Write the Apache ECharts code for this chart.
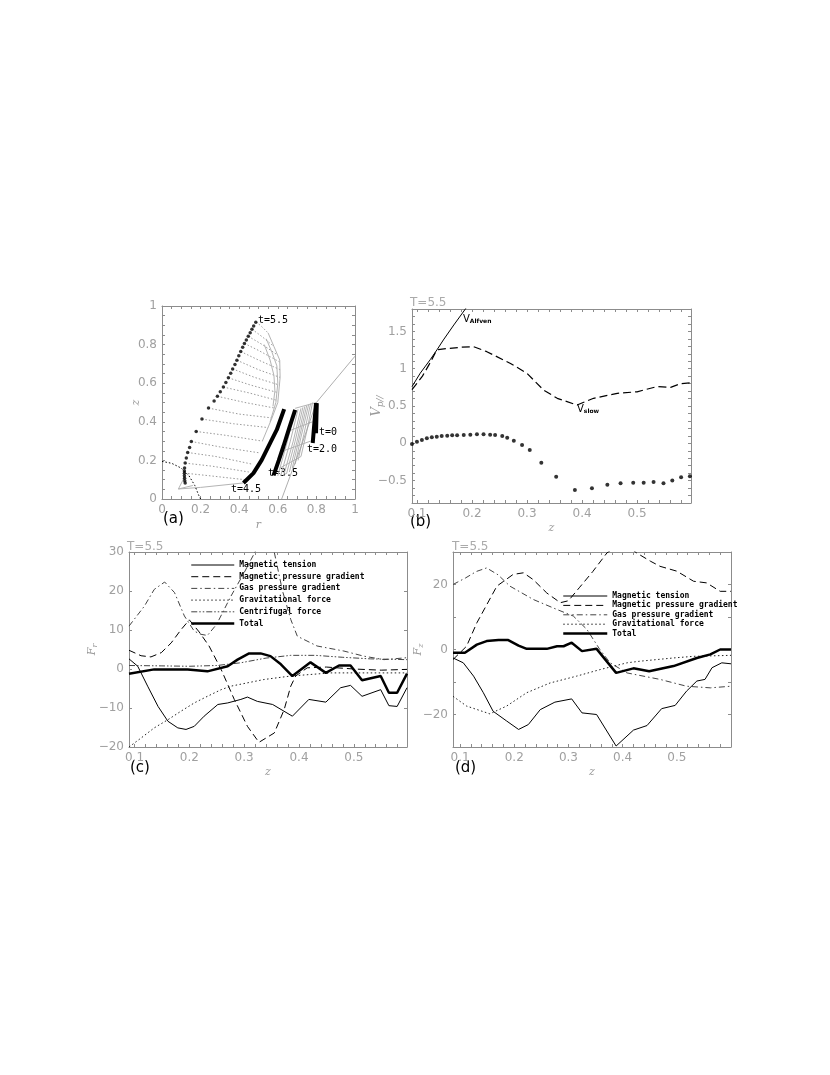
<!DOCTYPE html>
<html>
<head>
<meta charset="utf-8">
<script src="https://cdn.jsdelivr.net/npm/echarts@6/dist/echarts.min.js"></script>
<style>
html, body { margin: 0; padding: 0; background: #fff; }
#chart { width: 830px; height: 1075px; }
</style>
</head>
<body>
<div id="chart"></div>
<script>
// ---- tick labels ----
var aTicks = [0, 0.2, 0.4, 0.6, 0.8, 1];
var zLabels = [0.1, 0.2, 0.3, 0.4, 0.5];
var bYLabels = [-0.5, 0, 0.5, 1, 1.5];
var cYLabels = [-20, -10, 0, 10, 20, 30];
var dYLabels = [-20, 0, 20];

// ---- panel (a): field line snapshots, [r, z] ----
var aT55 = [[0.486,0.916],[0.475,0.897],[0.466,0.88],[0.457,0.862],[0.447,0.843],[0.437,0.824],[0.427,0.806],
  [0.418,0.786],[0.408,0.764],[0.398,0.742],[0.388,0.719],[0.378,0.697],[0.366,0.674],[0.356,0.652],[0.344,0.628],
  [0.331,0.604],[0.318,0.58],[0.302,0.556],[0.287,0.532],[0.27,0.508],[0.241,0.471],[0.207,0.414],[0.177,0.35],
  [0.152,0.298],[0.143,0.267],[0.133,0.241],[0.126,0.212],[0.12,0.186],[0.117,0.16],[0.116,0.145],[0.116,0.134],
  [0.116,0.12],[0.117,0.108],[0.118,0.095],[0.12,0.083]];
var aT45 = [[0.422,0.083],[0.474,0.134],[0.517,0.203],[0.56,0.29],[0.595,0.359],[0.633,0.466]];
var aT35 = [[0.578,0.122],[0.605,0.2],[0.629,0.272],[0.66,0.37],[0.69,0.462]];
var aT20 = [[0.781,0.29],[0.79,0.4],[0.798,0.497]];
var aT0 = [[0.798,0.341],[0.8,0.42],[0.802,0.497]];
var aGravity = [[0,0.195],[0.05,0.185],[0.1,0.16],[0.14,0.12],[0.17,0.07],[0.19,0.02],[0.2,0]];
var aFan = [
  [[0.486,0.916],[0.51,0.9],[0.55,0.86]],
  [[0.466,0.88],[0.52,0.84],[0.58,0.79]],
  [[0.447,0.843],[0.52,0.8],[0.6,0.745]],
  [[0.427,0.806],[0.5,0.77],[0.61,0.71]],
  [[0.408,0.764],[0.5,0.72],[0.612,0.67]],
  [[0.388,0.719],[0.5,0.67],[0.612,0.63]],
  [[0.366,0.674],[0.48,0.63],[0.61,0.59]],
  [[0.344,0.628],[0.46,0.59],[0.605,0.55]],
  [[0.318,0.58],[0.45,0.55],[0.6,0.51]],
  [[0.287,0.532],[0.43,0.5],[0.59,0.47]],
  [[0.241,0.471],[0.4,0.44],[0.57,0.42]],
  [[0.207,0.414],[0.37,0.39],[0.55,0.37]],
  [[0.177,0.35],[0.33,0.33],[0.52,0.3]],
  [[0.152,0.298],[0.3,0.27],[0.5,0.24]],
  [[0.133,0.241],[0.28,0.22],[0.47,0.18]],
  [[0.12,0.186],[0.26,0.17],[0.45,0.14]],
  [[0.117,0.134],[0.25,0.12],[0.43,0.1]]
];
var aEnvelope = [
  [[0.55,0.86],[0.58,0.79],[0.61,0.72],[0.612,0.63],[0.6,0.5],[0.57,0.42],[0.52,0.3]],
  [[0.54,0.83],[0.57,0.76],[0.595,0.69],[0.6,0.6],[0.59,0.5],[0.56,0.4]],
  [[0.53,0.8],[0.56,0.72],[0.58,0.64],[0.585,0.56],[0.575,0.48]]
];
var aBase = [[0.085,0.052],[0.2,0.06],[0.42,0.083]];
var aCorner = [[0.12,0.12],[0.085,0.052],[0.16,0.07]];
var aHatch = [
  [[0.6,0.12],[0.65,0.3],[0.69,0.46]],
  [[0.615,0.12],[0.665,0.3],[0.705,0.465]],
  [[0.63,0.12],[0.68,0.3],[0.72,0.47]],
  [[0.645,0.13],[0.69,0.3],[0.73,0.475]],
  [[0.66,0.14],[0.7,0.3],[0.74,0.48]],
  [[0.675,0.16],[0.71,0.31],[0.75,0.485]],
  [[0.69,0.18],[0.72,0.32],[0.76,0.49]],
  [[0.705,0.2],[0.735,0.335],[0.77,0.495]],
  [[0.72,0.22],[0.75,0.35],[0.78,0.5]],
  [[0.69,0.47],[0.8,0.5]],
  [[0.65,0.35],[0.78,0.4]],
  [[0.63,0.25],[0.77,0.3]],
  [[0.61,0.16],[0.72,0.22]]
];
var aOuter = [[0.62,0],[0.72,0.27],[0.8,0.5],[1.0,0.74]];

// ---- panel (b): velocities vs z ----
var bAlfven = [[0.091,0.76],[0.106,0.94],[0.124,1.12],[0.137,1.26],[0.148,1.385],[0.167,1.586],[0.188,1.8],[0.195,1.88]];
var bSlow = [[0.091,0.72],[0.11,0.9],[0.124,1.08],[0.136,1.25],[0.142,1.26],[0.179,1.287],[0.203,1.295],[0.227,1.228],
  [0.27,1.07],[0.3,0.938],[0.33,0.714],[0.355,0.603],[0.391,0.513],[0.421,0.603],[0.464,0.67],[0.5,0.69],
  [0.536,0.76],[0.561,0.75],[0.579,0.8],[0.597,0.81]];
var bVpar = [[0.091,-0.009],[0.1,0.021],[0.109,0.044],[0.118,0.067],[0.127,0.08],[0.136,0.089],[0.145,0.098],
  [0.155,0.102],[0.164,0.107],[0.173,0.107],[0.185,0.111],[0.197,0.116],[0.209,0.12],[0.221,0.12],[0.233,0.116],
  [0.242,0.111],[0.255,0.098],[0.264,0.075],[0.276,0.035],[0.291,-0.023],[0.305,-0.09],[0.326,-0.26],[0.353,-0.447],
  [0.387,-0.626],[0.418,-0.603],[0.446,-0.555],[0.47,-0.536],[0.493,-0.528],[0.512,-0.528],[0.53,-0.519],
  [0.548,-0.536],[0.564,-0.5],[0.58,-0.456],[0.596,-0.44]];

// ---- panel (c): radial forces ----
var cTension = [[0.09,2.6],[0.106,0.7],[0.124,-4.4],[0.143,-9.6],[0.161,-13.4],[0.179,-15.1],[0.194,-15.5],[0.209,-14.7],
  [0.227,-12.1],[0.252,-9.1],[0.27,-8.7],[0.294,-7.8],[0.306,-7.2],[0.324,-8.3],[0.352,-9.1],[0.388,-12.1],[0.418,-7.8],
  [0.449,-8.5],[0.476,-4.8],[0.494,-4.2],[0.515,-7.0],[0.549,-5.3],[0.564,-9.4],[0.579,-9.6],[0.597,-4.8]];
var cMagP = [[0.09,4.8],[0.112,3.4],[0.13,3.1],[0.149,4.2],[0.167,6.7],[0.185,10.1],[0.2,12.6],[0.218,9.5],[0.236,5.9],
  [0.258,-0.1],[0.282,-7.8],[0.306,-14.7],[0.327,-18.8],[0.355,-16.4],[0.373,-10.4],[0.385,-4.4],[0.394,-1.8],
  [0.415,0.3],[0.45,0.5],[0.5,0],[0.55,-0.3],[0.597,-0.1]];
var cGas = [[0.09,11],[0.118,16.1],[0.136,20.4],[0.155,22.3],[0.173,19.6],[0.191,13.6],[0.209,9.7],[0.221,8.9],
  [0.233,8.6],[0.25,11.5],[0.276,18.7],[0.3,24.7],[0.321,30.3],[0.335,33],[0.355,29.9],[0.37,20],[0.385,12.7],
  [0.397,8.4],[0.433,5.9],[0.482,4.6],[0.518,3.3],[0.555,2.4],[0.597,2.9]];
var cGrav = [[0.09,-20],[0.112,-17.7],[0.136,-15.1],[0.161,-13],[0.185,-10.8],[0.209,-8.7],[0.233,-7],[0.258,-5.3],
  [0.276,-4.4],[0.336,-2.7],[0.385,-1.8],[0.458,-1.0],[0.52,-1.0],[0.597,-1.0]];
var cCent = [[0.09,0.9],[0.15,0.8],[0.2,0.7],[0.25,0.9],[0.294,1.6],[0.34,2.8],[0.385,3.5],[0.43,3.5],[0.48,3.0],
  [0.53,2.6],[0.597,2.4]];
var cTotal = [[0.09,-1.2],[0.136,-0.1],[0.197,-0.1],[0.233,-0.6],[0.27,0.7],[0.288,2.4],[0.309,4.0],[0.33,4.0],
  [0.348,3.3],[0.367,1.2],[0.388,-1.8],[0.421,1.7],[0.449,-1.0],[0.473,0.9],[0.494,0.9],[0.515,-2.9],[0.549,-1.8],
  [0.564,-6.1],[0.579,-6.1],[0.597,-1.2]];

// ---- panel (d): vertical forces ----
var dTension = [[0.087,-2.6],[0.106,-4.1],[0.125,-8.2],[0.143,-13.3],[0.161,-19],[0.186,-22],[0.208,-24.6],[0.226,-23.1],
  [0.248,-18.5],[0.275,-16.2],[0.306,-15.2],[0.325,-19.5],[0.352,-20],[0.388,-29.7],[0.42,-24.8],[0.445,-23.4],
  [0.472,-18.2],[0.497,-17.2],[0.518,-12.8],[0.537,-9.7],[0.552,-9.2],[0.565,-5.6],[0.583,-4.1],[0.6,-4.4]];
var dMagP = [[0.087,-3.1],[0.112,1],[0.131,8.2],[0.15,14],[0.168,19.5],[0.198,23.1],[0.217,23.6],[0.235,21.5],
  [0.26,17.4],[0.285,14.4],[0.3,15],[0.32,19],[0.345,24],[0.371,29.7],[0.4,33],[0.426,29.7],[0.451,27.2],
  [0.469,25.6],[0.5,24.1],[0.531,21],[0.555,20.5],[0.58,17.9],[0.6,17.9]];
var dGas = [[0.087,20],[0.11,22],[0.13,24],[0.149,25.1],[0.17,23],[0.192,19.5],[0.235,15.4],[0.279,12.3],
  [0.309,10.3],[0.334,6.2],[0.346,3.1],[0.358,0],[0.377,-4.1],[0.408,-7.2],[0.469,-9.2],[0.518,-11.3],
  [0.562,-11.8],[0.6,-11.3]];
var dGrav = [[0.087,-14.4],[0.112,-17.4],[0.155,-19.8],[0.186,-17.4],[0.223,-13.3],[0.266,-10.3],[0.315,-8.2],
  [0.358,-6.2],[0.408,-4.1],[0.432,-3.6],[0.494,-2.6],[0.531,-2.1],[0.6,-1.8]];
var dTotal = [[0.087,-1],[0.109,-1],[0.131,1.5],[0.149,2.6],[0.171,2.9],[0.189,2.9],[0.208,1.2],[0.223,0.2],
  [0.26,0.2],[0.279,1],[0.291,1],[0.306,2.1],[0.325,-0.5],[0.352,0.2],[0.388,-7.2],[0.42,-5.8],[0.449,-6.7],
  [0.494,-5.1],[0.537,-2.6],[0.562,-1.5],[0.58,0],[0.6,0]];

var N_TENSION = 'Magnetic tension';
var N_MAGP = 'Magnetic pressure gradient';
var N_GAS = 'Gas pressure gradient';
var N_GRAV = 'Gravitational force';
var N_CENT = 'Centrifugal force';
var N_TOTAL = 'Total';

// tick helper
function steps(a, b, s) {
  var out = [];
  for (var v = a; v <= b + 1e-9; v += s) out.push(+v.toFixed(4));
  return out;
}
var AX = '#8c8c8c';
var LBL = '#a0a0a0';
function minus(v) { return String(v).replace('-', '\u2212'); }
var NAMESTYLE = { color: '#999', fontSize: 11, fontFamily: 'DejaVu Serif', fontStyle: 'italic' };

function axisPair(grid, isX, min, max, labels, ticks, name, nameGap, nameStyle) {
  var main = {
    type: 'value', gridIndex: grid, min: min, max: max,
    position: isX ? 'bottom' : 'left',
    axisLine: { show: true, onZero: false, lineStyle: { color: AX, width: 1 } },
    axisTick: { show: true, inside: true, length: 3, customValues: ticks, lineStyle: { color: AX } },
    axisLabel: { show: true, customValues: labels, formatter: minus, color: LBL, fontSize: 12,
      fontFamily: 'DejaVu Sans', margin: isX ? 5 : 5 },
    splitLine: { show: false },
    name: name, nameLocation: 'middle', nameGap: nameGap, nameMoveOverlap: false,
    nameRotate: isX ? 0 : 90,
    nameTextStyle: nameStyle || NAMESTYLE
  };
  var mirror = {
    type: 'value', gridIndex: grid, min: min, max: max,
    position: isX ? 'top' : 'right',
    axisLine: { show: true, onZero: false, lineStyle: { color: AX, width: 1 } },
    axisTick: { show: true, inside: true, length: 3, customValues: ticks, lineStyle: { color: AX } },
    axisLabel: { show: false },
    splitLine: { show: false }
  };
  return [main, mirror];
}

function subStyle(big, small, drop) {
  return { color: '#999', rich: {
    v: { fontSize: big, fontFamily: 'DejaVu Serif', fontStyle: 'italic', color: '#999' },
    s: { fontSize: small, fontFamily: 'DejaVu Serif', fontStyle: 'italic', color: '#999', padding: [drop, 0, 0, 0] } } };
}

var xAxes = [].concat(
  axisPair(0, true, 0, 1, aTicks, steps(0.05, 0.95, 0.05), 'r', 21),
  axisPair(1, true, 0.091, 0.598, zLabels, steps(0.1, 0.58, 0.02), 'z', 20),
  axisPair(2, true, 0.09, 0.597, zLabels, steps(0.1, 0.58, 0.02), 'z', 20),
  axisPair(3, true, 0.087, 0.6, zLabels, steps(0.1, 0.58, 0.02), 'z', 20)
);
var yAxes = [].concat(
  axisPair(0, false, 0, 1, aTicks, steps(0.05, 0.95, 0.05), 'z', 20),
  axisPair(1, false, -0.8, 1.8, bYLabels, steps(-0.7, 1.7, 0.1), '{v|V}{s|p//}', 27, subStyle(13, 9, 8)),
  axisPair(2, false, -20, 30, cYLabels, steps(-10, 20, 10), '{v|F}{s|r}', 30, subStyle(11, 8, 6)),
  axisPair(3, false, -30, 30, dYLabels, steps(-20, 20, 10), '{v|F}{s|z}', 28, subStyle(11, 8, 6))
);

function ln(data, g, style, name) {
  return {
    name: name, type: 'line', data: data, xAxisIndex: g * 2, yAxisIndex: g * 2,
    symbol: 'none', smooth: false, lineStyle: style, silent: true, animation: false, z: 3
  };
}
function dots(data, g, size) {
  return {
    type: 'scatter', data: data, xAxisIndex: g * 2, yAxisIndex: g * 2,
    symbol: 'circle', symbolSize: size, itemStyle: { color: '#000' }, silent: true, animation: false, z: 4
  };
}

var GRAYDOT = { color: '#9a9a9a', width: 1, type: [1.5, 2] };
var GRAYLINE = { color: '#b4b4b4', width: 1 };
var THICK = { color: '#000', width: 4 };

var SOLID = { color: '#000', width: 1 };
var DASHED = { color: '#000', width: 1, type: [7, 4] };
var DASHDOT = { color: '#444', width: 1, type: [6, 3, 1.5, 3] };
var DOTTED = { color: '#222', width: 1, type: [1.5, 2.5] };
var DASHDOTDOT = { color: '#444', width: 1, type: [6, 2, 1.5, 2, 1.5, 2] };
var TOTAL = { color: '#000', width: 2.5 };

var series = [];
aFan.forEach(function (l) { series.push(ln(l, 0, GRAYDOT)); });
aHatch.forEach(function (l) { series.push(ln(l, 0, GRAYLINE)); });
aEnvelope.forEach(function (l) { series.push(ln(l, 0, GRAYLINE)); });
series.push(ln(aBase, 0, GRAYLINE));
series.push(ln(aCorner, 0, GRAYLINE));
series.push(ln(aOuter, 0, { color: '#999', width: 0.8 }));
series.push(ln(aGravity, 0, { color: '#000', width: 1, type: [1.5, 2] }));
series.push(ln(aT45, 0, THICK));
series.push(ln(aT35, 0, THICK));
series.push(ln(aT20, 0, THICK));
series.push(ln(aT0, 0, THICK));
series.push(dots(aT55, 0, 3.5));

series.push(ln(bAlfven, 1, SOLID));
series.push(ln(bSlow, 1, { color: '#000', width: 1.2, type: [8, 4] }));
series.push(dots(bVpar, 1, 4));

series.push(ln(cTension, 2, SOLID, N_TENSION));
series.push(ln(cMagP, 2, DASHED, N_MAGP));
series.push(ln(cGas, 2, DASHDOT, N_GAS));
series.push(ln(cGrav, 2, DOTTED, N_GRAV));
series.push(ln(cCent, 2, DASHDOTDOT, N_CENT));
series.push(ln(cTotal, 2, TOTAL, N_TOTAL));

series.push(ln(dTension, 3, SOLID, N_TENSION));
series.push(ln(dMagP, 3, DASHED, N_MAGP));
series.push(ln(dGas, 3, DASHDOT, N_GAS));
series.push(ln(dGrav, 3, DOTTED, N_GRAV));
series.push(ln(dTotal, 3, TOTAL, N_TOTAL));

var legendText = { fontFamily: 'DejaVu Sans Mono', fontSize: 8, color: '#000', fontWeight: 'bold' };

var tFont = '10px "DejaVu Sans Mono"';
function txt(x, y, s, font, color) {
  return { type: 'text', left: x, top: y, silent: true,
    style: { text: s, font: font || tFont, fill: color || '#000' } };
}

var option = {
  backgroundColor: '#fff',
  animation: false,
  grid: [
    { left: 162, top: 306, width: 193, height: 193 },
    { left: 412, top: 309, width: 279, height: 194 },
    { left: 129, top: 552, width: 278, height: 195 },
    { left: 453, top: 552, width: 278, height: 195 }
  ],
  xAxis: xAxes,
  yAxis: yAxes,
  legend: [
    { data: [N_TENSION, N_MAGP, N_GAS, N_GRAV, N_CENT, N_TOTAL], orient: 'vertical', left: 190, top: 560,
      itemWidth: 43, itemHeight: 10, itemGap: 1.7, itemStyle: { opacity: 0 }, lineStyle: { width: 'inherit' },
      selectedMode: false, textStyle: Object.assign({ lineHeight: 10 }, legendText), padding: 0 },
    { data: [N_TENSION, N_MAGP, N_GAS, N_GRAV, N_TOTAL], orient: 'vertical', left: 562, top: 592,
      itemWidth: 44, itemHeight: 8, itemGap: 1.4, itemStyle: { opacity: 0 }, lineStyle: { width: 'inherit' },
      selectedMode: false, textStyle: Object.assign({ lineHeight: 8 }, legendText), padding: 0 }
  ],
  graphic: [
    txt(258, 315, 't=5.5'),
    txt(319, 427, 't=0'),
    txt(307, 444, 't=2.0'),
    txt(268, 468, 't=3.5'),
    txt(231, 484, 't=4.5'),
    { type: 'text', left: 463, top: 314, silent: true,
      style: { text: '{v|V}{s|Alfven}', rich: { v: { font: '10px "DejaVu Sans"', fill: '#000' },
        s: { font: 'bold 6px "DejaVu Sans"', fill: '#000', padding: [4, 0, 0, 0] } } } },
    { type: 'text', left: 577, top: 404, silent: true,
      style: { text: '{v|V}{s|slow}', rich: { v: { font: '10px "DejaVu Sans"', fill: '#000' },
        s: { font: 'bold 6px "DejaVu Sans"', fill: '#000', padding: [4, 0, 0, 0] } } } },
    txt(410, 297, 'T=5.5', '12px "DejaVu Sans"', '#aaa'),
    txt(127, 541, 'T=5.5', '12px "DejaVu Sans"', '#aaa'),
    txt(452, 541, 'T=5.5', '12px "DejaVu Sans"', '#aaa'),
    txt(163, 512, '(a)', '15px "DejaVu Sans"'),
    txt(410, 515, '(b)', '15px "DejaVu Sans"'),
    txt(130, 761, '(c)', '15px "DejaVu Sans"'),
    txt(455, 761, '(d)', '15px "DejaVu Sans"')
  ],
  series: series
};

var chart = echarts.init(document.getElementById('chart'), null, { renderer: 'canvas' });
chart.setOption(option);
</script>
</body>
</html>
